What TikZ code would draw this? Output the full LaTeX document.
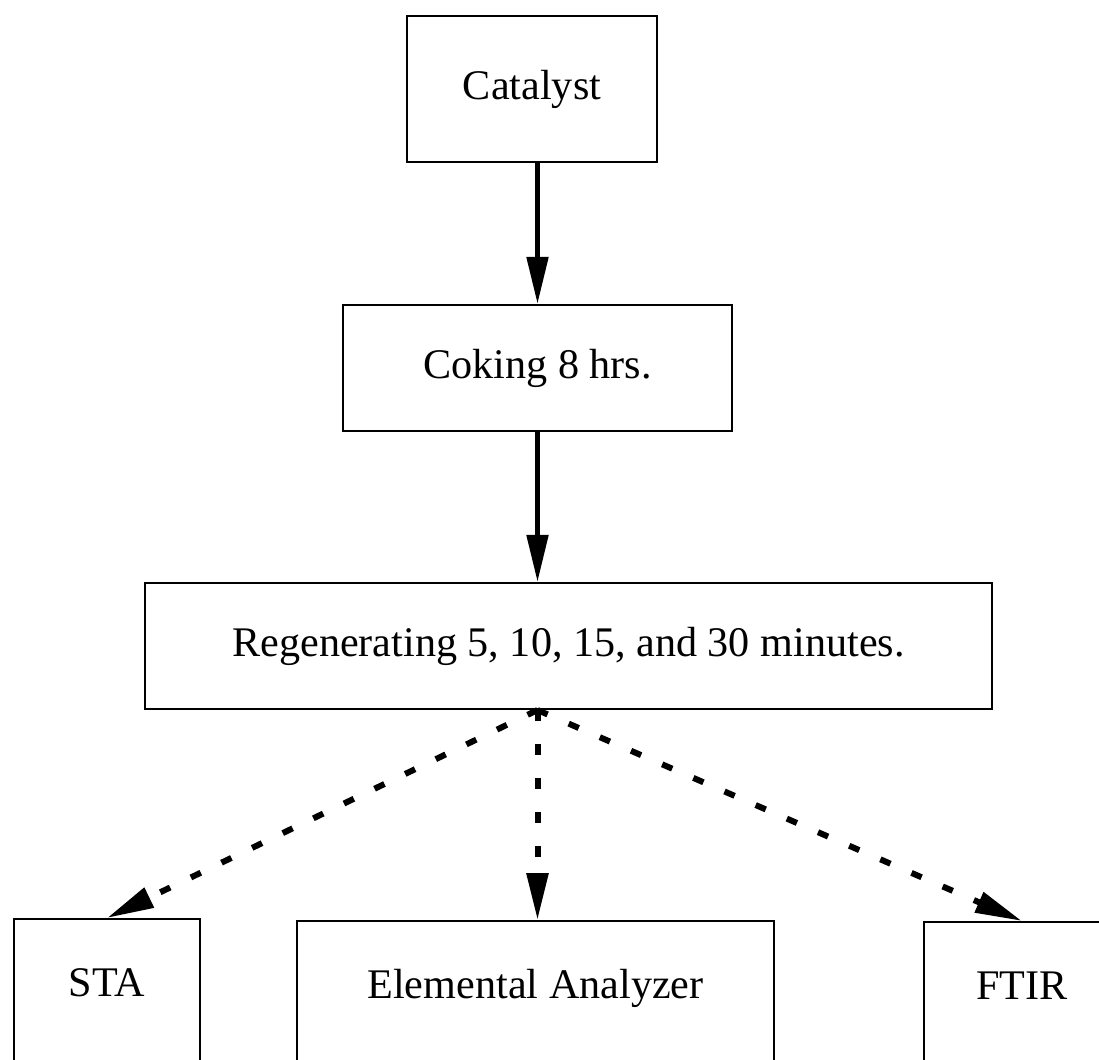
\documentclass[tikz,border=0pt]{standalone}
\usepackage{fontspec}
\setmainfont{Liberation Serif}
\usetikzlibrary{arrows.meta}

\begin{document}
\begin{tikzpicture}[x=0.02cm, y=-0.02cm,
  mybox/.style={draw, line width=1.2pt, rectangle, font=\fontsize{24pt}{24pt}\selectfont},
  mylowbox/.style={mybox, anchor=north, inner ysep=0.98cm, text height=0.56cm, text depth=3cm},
  mysolidarrow/.style={line width=0.1cm, -{Triangle[length=0.94cm, width=0.42cm]}},
  mydasharrow/.style={mysolidarrow, line width=0.12cm, dash pattern=on 0.22cm off 0.46cm}]%
\clip (0,0) rectangle (1099,1060);%
% steps from top to bottom
\node[mybox, minimum width=5.0cm, minimum height=2.92cm] (cat) at (532,89) {Catalyst};%
\node[mybox, minimum width=7.78cm, minimum height=2.52cm] (cok) at (537.5,368) {Coking 8 hrs.};%
\node[mybox, minimum width=16.94cm, minimum height=2.52cm] (reg) at (568.5,646) {Regenerating 5, 10, 15, and 30 minutes.};%
% analyses, cut off by the lower edge
\node[mylowbox, minimum width=3.72cm] (sta) at (107,918) {STA};%
\node[mylowbox, minimum width=9.54cm] (ela) at (535.5,920) {Elemental Analyzer};%
\node[mylowbox, minimum width=3.92cm] (ftir) at (1022,921) {FTIR};%
\coordinate (split) at (reg.south -| cok.south);%
\draw[mysolidarrow] (cat.south -| cok.north) -- (cok.north);%
\draw[mysolidarrow] (cok.south) -- (reg.north -| cok.south);%
\draw[mydasharrow] (split) -- (sta.north);%
\draw[mydasharrow] (split) -- (ela.north -| split);%
\draw[mydasharrow] (split) -- (ftir.north);%
\end{tikzpicture}
\end{document}
